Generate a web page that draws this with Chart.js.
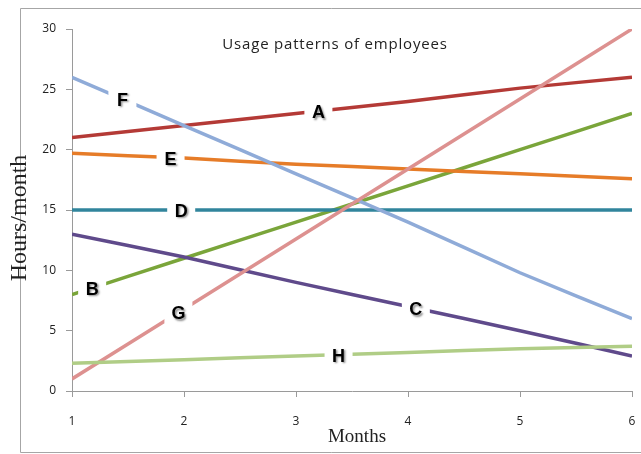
<!DOCTYPE html>
<html>
<head>
<meta charset="utf-8">
<script src="https://cdn.jsdelivr.net/npm/chart.js@4.4.0/dist/chart.umd.min.js"></script>
<style>
  html, body { margin: 0; padding: 0; background: #fff; }
  #wrap { width: 641px; height: 454px; }
</style>
</head>
<body>
<div id="wrap"><canvas id="chart" width="641" height="454"></canvas></div>
<script>
// values
const months = [1, 2, 3, 4, 5, 6]
const yTicks = [0, 5, 10, 15, 20, 25, 30]
const names = ['A', 'B', 'C', 'D', 'E', 'F', 'G', 'H']
const seriesA = [21, 22, 23, 24, 25.1, 26]
const seriesB = [8, 11, 14, 17, 20, 23]
const seriesC = [13, 11.1, 9, 7, 5, 2.9]
const seriesD = [15, 15, 15, 15, 15, 15]
const seriesE = [19.7, 19.3, 18.8, 18.4, 18, 17.6]
const seriesF = [26, 22, 18, 14, 9.8, 6]
const seriesG = [1, 6.8, 12.6, 18.4, 24.2, 30]
const seriesH = [2.3, 2.6, 2.9, 3.2, 3.5, 3.7]
// month at which each line carries its letter
const labelMonth = [3.2, 1.18, 4.07, 1.975, 1.88, 1.45, 1.95, 3.38]

const allSeries = [seriesA, seriesB, seriesC, seriesD, seriesE, seriesF, seriesG, seriesH]
const colors = ['#b43a36', '#7aa53a', '#5f4a8b', '#31859c', '#e67c28', '#8fabd8', '#dd9190', '#b0cd86']

let valueAt = (arr, m) => {
   let i = Math.min(Math.floor(m) - 1, arr.length - 2)
   let t = m - (i + 1)
   return arr[i] + (arr[i + 1] - arr[i]) * t
}

let datasets = allSeries.map((arr, i) => {
   return {
      label: names[i],
      data: arr.map((v, k) => ({ x: months[k], y: v })),
      borderColor: colors[i],
      backgroundColor: colors[i],
      borderWidth: 3.5,
      pointRadius: 0,
      tension: 0.15,
      order: names.length - i
   }
})

const decor = {
   id: 'decor',
   beforeDraw(chart) {
      let c = chart.ctx
      c.save()
      c.fillStyle = '#fff'
      c.fillRect(0, 0, chart.width, chart.height)
      c.strokeStyle = '#a6a6a6'
      c.lineWidth = 1
      c.beginPath()
      c.moveTo(chart.width + 2, 8.5)
      c.lineTo(20.5, 8.5)
      c.lineTo(20.5, 452.5)
      c.lineTo(chart.width + 2, 452.5)
      c.stroke()
      c.restore()
   },
   afterDatasetsDraw(chart) {
      let c = chart.ctx
      let xs = chart.scales.x
      let ys = chart.scales.y
      c.save()
      // line letters, boxed in white so the line breaks round them
      c.font = 'bold 18px "Liberation Sans", Arial, sans-serif'
      c.textAlign = 'center'
      c.textBaseline = 'middle'
      names.forEach((n, i) => {
         let m = labelMonth[i]
         let px = xs.getPixelForValue(m)
         let py = ys.getPixelForValue(valueAt(allSeries[i], m))
         c.fillStyle = '#fff'
         c.fillRect(px - 14, py - 11, 28, 22)
         c.shadowColor = 'rgba(0,0,0,0.45)'
         c.shadowOffsetX = 1.5
         c.shadowOffsetY = 1.5
         c.shadowBlur = 2
         c.fillStyle = '#000'
         c.fillText(n, px, py + 2)
         c.shadowColor = 'transparent'
      })
      // month labels under the x axis, placed by the x scale
      c.fillStyle = '#222'
      c.font = '12px "Open Sans", sans-serif'
      xs.ticks.forEach((t) => {
         c.fillText(String(t.value), xs.getPixelForValue(t.value), chart.height - 32)
      })
      // title
      c.font = '15px "Open Sans", sans-serif'
      c.letterSpacing = '0.8px'
      c.fillText('Usage patterns of employees', 335, 45)
      c.letterSpacing = '0px'
      // axis titles
      c.font = '19px "Liberation Serif", "Times New Roman", serif'
      c.fillText('Months', 357, 437)
      c.translate(20, 218)
      c.rotate(-Math.PI / 2)
      c.font = '24px "Liberation Serif", "Times New Roman", serif'
      c.fillText('Hours/month', 0, 0)
      c.restore()
   }
}

let ctx = document.getElementById('chart').getContext('2d')
new Chart(ctx, {
   type: 'line',
   data: { datasets: datasets },
   options: {
      responsive: false,
      animation: false,
      layout: { padding: { left: 0, top: 29, right: 9, bottom: 57 } },
      plugins: { legend: { display: false }, tooltip: { enabled: false } },
      scales: {
         x: {
            type: 'linear',
            min: months[0],
            max: months[months.length - 1],
            afterFit: (s) => { s.paddingLeft = 0; s.paddingRight = 0 },
            afterBuildTicks: (s) => { s.ticks = months.map(v => ({ value: v })) },
            ticks: { display: false },
            grid: { display: true, drawOnChartArea: false, drawTicks: true, tickLength: 6, color: '#9a9a9a' },
            border: { display: true, color: '#9a9a9a', width: 1 }
         },
         y: {
            min: 0,
            max: 30,
            afterFit: (s) => { s.width = 72; s.paddingTop = 0; s.paddingBottom = 0 },
            afterBuildTicks: (s) => { s.ticks = yTicks.map(v => ({ value: v })) },
            ticks: { color: '#222', font: { family: 'Open Sans', size: 12 }, padding: 10 },
            grid: { display: true, drawOnChartArea: false, drawTicks: true, tickLength: 6, color: '#9a9a9a' },
            border: { display: true, color: '#9a9a9a', width: 1 }
         }
      }
   },
   plugins: [decor]
})
</script>
</body>
</html>
